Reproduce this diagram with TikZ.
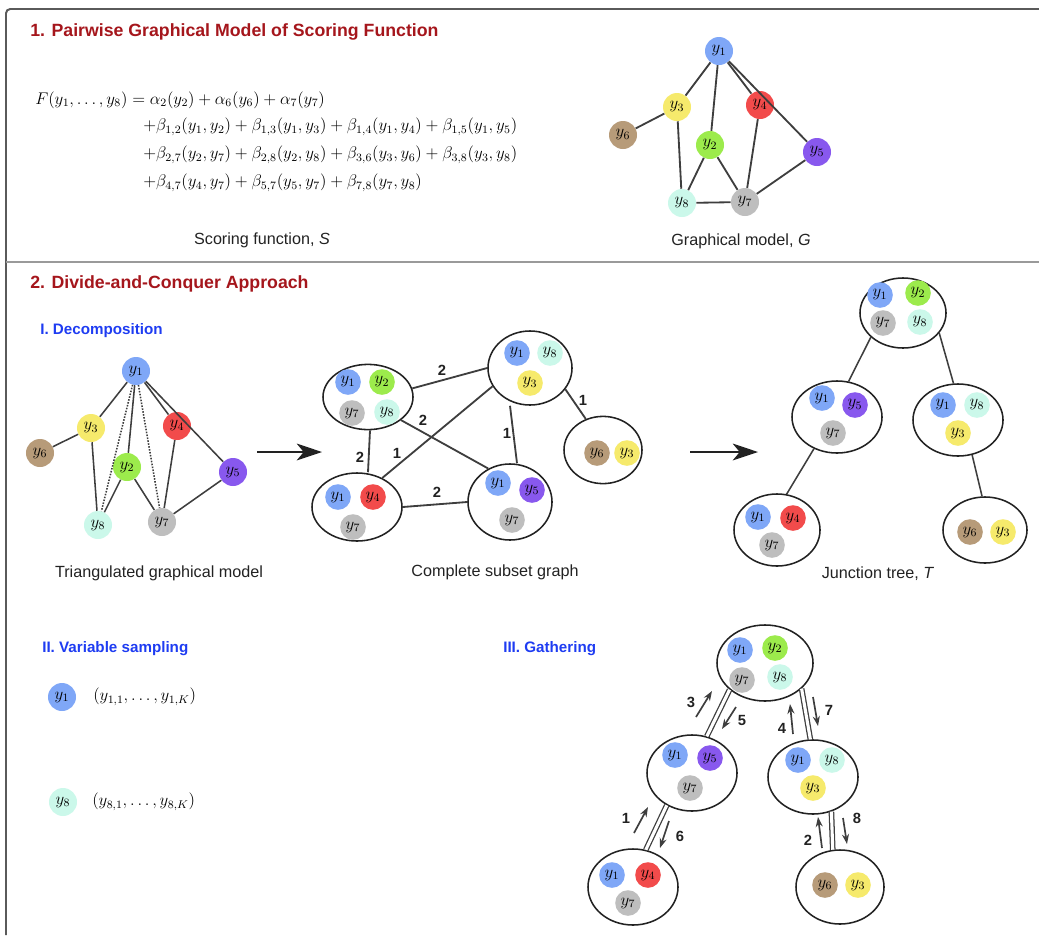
\documentclass[tikz,border=0pt]{standalone}
\usepackage{amsmath}
\usepackage{fontspec}
\setsansfont{Liberation Sans}
\usetikzlibrary{arrows.meta, shapes.geometric}
\definecolor{vc1}{HTML}{7FA7F7}
\definecolor{vc2}{HTML}{9CEB4C}
\definecolor{vc3}{HTML}{F6EA6C}
\definecolor{vc4}{HTML}{F24B4B}
\definecolor{vc5}{HTML}{8858EE}
\definecolor{vc6}{HTML}{B79B79}
\definecolor{vc7}{HTML}{BEBEBE}
\definecolor{vc8}{HTML}{CBF8EA}
\definecolor{titleRed}{HTML}{A5161C}
\definecolor{subBlue}{HTML}{1E3CF2}
\definecolor{inkOne}{HTML}{222222}
\definecolor{inkTwo}{HTML}{3E3E3E}
\definecolor{frameGray}{HTML}{5A5A5A}
\definecolor{sepGray}{HTML}{9A9A9A}
\tikzset{
  yv/.style={circle, minimum size=0.7cm, inner sep=0pt, font=\fontsize{11.5}{11.5}\selectfont},
  clq/.style={ellipse, draw=inkOne, line width=1.1pt, fill=white, minimum width=2.25cm, minimum height=1.8cm,
    inner sep=0pt},
  link/.style={draw=inkTwo, line width=1.3pt},
  tlink/.style={draw=inkTwo, line width=1.1pt},
  dlink/.style={draw=inkTwo, line width=0.9pt, double=white, double distance=2.2pt},
  sectitle/.style={anchor=west, font=\sffamily\bfseries\fontsize{12.6}{14}\selectfont, text=titleRed, inner sep=0pt},
  subtitle/.style={anchor=west, font=\sffamily\bfseries\fontsize{10.8}{12}\selectfont, text=subBlue, inner sep=0pt},
  capt/.style={font=\sffamily\fontsize{11.5}{13}\selectfont, text=inkOne},
  fml/.style={anchor=west, font=\fontsize{11.6}{13}\selectfont, inner sep=0pt},
  wt/.style={font=\sffamily\bfseries\fontsize{10.5}{12}\selectfont, text=inkOne, inner sep=1pt},
  flow/.style={-{Stealth[length=7pt, width=5pt]}, draw=inkTwo, line width=1.2pt},
  bigarr/.style={-{Stealth[length=18pt, width=12pt, inset=5pt]}, draw=inkOne, line width=0.9pt},
  outframe/.style={draw=frameGray, line width=1.4pt},
  sepline/.style={draw=sepGray, line width=1.2pt},
}

\begin{document}
\begin{tikzpicture}[x=0.025cm, y=-0.025cm]
  % \yvar{name}{x,y}{index}: coloured variable y_index
  \newcommand{\yvar}[3]{\node[yv, fill=vc#3] (#1) at (#2) {$y_{#3}$};}
  \newcommand{\yin}[3]{\node[yv, minimum size=0.64cm, fill=vc#3] (#1) at (#2) {$y_{#3}$};}
  \useasboundingbox (0,0) rectangle (1039,935);
  \draw[outframe, rounded corners=3pt] (1039,9) -- (6,9) -- (6,935);
  \draw[sepline] (6,262) -- (1039,262);
  % ---- 1. scoring function S and graph G
  \node[sectitle] (ttl1) at (30,32) {1. Pairwise Graphical Model of Scoring Function};
  \node[fml] (f1) at (35,100) {$F(y_1,\ldots,y_8)=\alpha_2(y_2)+\alpha_6(y_6)+\alpha_7(y_7)$};
  \node[fml] (f2) at (143,127) {$+\beta_{1,2}(y_1,y_2)+\beta_{1,3}(y_1,y_3)+\beta_{1,4}(y_1,y_4)+\beta_{1,5}(y_1,y_5)$};
  \node[fml] (f3) at (143,155) {$+\beta_{2,7}(y_2,y_7)+\beta_{2,8}(y_2,y_8)+\beta_{3,6}(y_3,y_6)+\beta_{3,8}(y_3,y_8)$};
  \node[fml] (f4) at (143,183) {$+\beta_{4,7}(y_4,y_7)+\beta_{5,7}(y_5,y_7)+\beta_{7,8}(y_7,y_8)$};
  \node[capt] (capS) at (262,240) {Scoring function, \textit{S}};
  \foreach \n/\x/\y in {1/719/51, 2/710/145, 3/677/107, 4/760/105, 5/817/152, 6/623/135, 7/745/202, 8/682/203}
    {\yvar{g\n}{\x,\y}{\n}}
  \foreach \a/\b in {1/2, 1/3, 1/4, 1/5, 2/7, 2/8, 3/6, 3/8, 4/7, 5/7, 7/8}
    {\draw[link] (g\a) -- (g\b);}
  \node[capt] (capG) at (741,241) {Graphical model, \textit{G}};
  % ---- 2. divide and conquer
  \node[sectitle] (ttl2) at (30,284) {2. Divide-and-Conquer Approach};
  \node[subtitle] (sub1) at (40,331) {I. Decomposition};
  % triangulated graph
  \foreach \n/\x/\y in {1/136/371, 2/127/467, 3/91/428, 4/177/426, 5/233/472, 6/40/453, 7/162/522, 8/98/525}
    {\yvar{t\n}{\x,\y}{\n}}
  \foreach \a/\b in {1/2, 1/3, 1/4, 1/5, 2/7, 2/8, 3/6, 3/8, 4/7, 5/7}
    {\draw[tlink] (t\a) -- (t\b);}
  \draw[tlink, densely dotted] (t1) -- (t8);
  \draw[tlink, densely dotted] (t1) -- (t7);
  \node[capt] (capT) at (159,573) {Triangulated graphical model};
  \coordinate (ar1s) at (257,452); \coordinate (ar1e) at (322,452);
  \draw[bigarr] (ar1s) -- (ar1e);
  % complete subset graph
  \node[clq, minimum width=2.25cm, minimum height=1.63cm] (sA) at (368,397) {};
  \node[clq, minimum width=2.1cm, minimum height=1.85cm] (sB) at (530,368) {};
  \node[clq, minimum width=1.95cm, minimum height=1.68cm] (sC) at (603,450) {};
  \node[clq, minimum width=2.25cm, minimum height=1.7cm] (sD) at (357,507) {};
  \node[clq, minimum width=2.1cm, minimum height=1.9cm] (sE) at (510,502) {};
  \draw[link] (sA.11) -- (sB.180);
  \draw[link] (sA.-35) -- (sE.123);
  \draw[link] (sA.south) ++(2,0) -- (sD.north -| sA.south);
  \draw[link] (sD.49) -- (sB.206);
  \draw[link] (sD.0) -- (sE.180);
  \draw[link] (sE.north) ++(7,0) -- (sB.south -| sE.north);
  \draw[link] (sB.-31) -- (sC.119);
  \foreach \n/\x/\y in {1/348/382, 2/382/382, 7/352/413, 8/387/412} {\yin{sA\n}{\x,\y}{\n}}
  \foreach \n/\x/\y in {1/517/353, 8/550/353, 3/530/383} {\yin{sB\n}{\x,\y}{\n}}
  \foreach \n/\x/\y in {6/597/453, 3/627/453} {\yin{sC\n}{\x,\y}{\n}}
  \foreach \n/\x/\y in {1/338/497, 4/373/497, 7/353/527} {\yin{sD\n}{\x,\y}{\n}}
  \foreach \n/\x/\y in {1/498/483, 5/532/490, 7/512/520} {\yin{sE\n}{\x,\y}{\n}}
  \node[wt] (wAB) at (442,370) {2};
  \node[wt] (wAE) at (423,420) {2};
  \node[wt] (wAD) at (360,457) {2};
  \node[wt] (wDB) at (397,453) {1};
  \node[wt] (wBE) at (507,433) {1};
  \node[wt] (wBC) at (583,400) {1};
  \node[wt] (wDE) at (437,492) {2};
  \node[capt] (capC) at (495,572) {Complete subset graph};
  \coordinate (ar2s) at (690,452); \coordinate (ar2e) at (758,452);
  \draw[bigarr] (ar2s) -- (ar2e);
  % junction tree
  \node[clq, minimum width=2.15cm, minimum height=1.75cm] (jA) at (903,313) {};
  \node[clq] (jE) at (837,417) {};
  \node[clq] (jB) at (958,420) {};
  \node[clq, minimum width=2.15cm] (jD) at (777,530) {};
  \node[clq, minimum width=2.1cm, minimum height=1.65cm] (jC) at (985,530) {};
  \draw[tlink] (jA.217) -- (jE.72);
  \draw[tlink] (jA.-29) -- (jB.97);
  \draw[tlink] (jE.234) -- (jD.75);
  \draw[tlink] (jB.-68) -- (jC.95);
  \foreach \n/\x/\y in {1/880/295, 2/918/293, 7/883/323, 8/920/322} {\yin{jA\n}{\x,\y}{\n}}
  \foreach \n/\x/\y in {1/822/398, 5/855/405, 7/833/433} {\yin{jE\n}{\x,\y}{\n}}
  \foreach \n/\x/\y in {1/943/405, 8/977/405, 3/958/433} {\yin{jB\n}{\x,\y}{\n}}
  \foreach \n/\x/\y in {1/758/517, 4/793/518, 7/772/545} {\yin{jD\n}{\x,\y}{\n}}
  \foreach \n/\x/\y in {6/970/532, 3/1003/532} {\yin{jC\n}{\x,\y}{\n}}
  \node[capt] (capJ) at (878,574) {Junction tree, \textit{T}};
  % ---- II. sampling
  \node[subtitle] (sub2) at (42,649) {II. Variable sampling};
  \yvar{p1}{62,697}{1}
  \yvar{p8}{63,802}{8}
  \node[fml] (q1) at (93,697) {$(y_{1,1},\ldots,y_{1,K})$};
  \node[fml] (q8) at (92,802) {$(y_{8,1},\ldots,y_{8,K})$};
  % ---- III. gathering
  \node[subtitle] (sub3) at (503,649) {III. Gathering};
  \node[clq, minimum width=2.4cm, minimum height=1.9cm] (hA) at (765,663) {};
  \node[clq, minimum height=1.9cm] (hE) at (692,773) {};
  \node[clq, minimum height=1.85cm] (hB) at (813,777) {};
  \node[clq, minimum height=1.9cm] (hD) at (633,887) {};
  \node[clq, minimum width=2.2cm, minimum height=1.85cm] (hC) at (840,887) {};
  \draw[dlink] (hA.217) -- (hE.68);
  \draw[dlink] (hA.-35) -- (hB.94);
  \draw[dlink] (hE.232) -- (hD.71);
  \draw[dlink] (hB.-62) -- (hC.101);
  \foreach \n/\x/\y in {1/740/650, 2/775/648, 7/742/680, 8/780/677} {\yin{hA\n}{\x,\y}{\n}}
  \foreach \n/\x/\y in {1/675/755, 5/710/758, 7/690/788} {\yin{hE\n}{\x,\y}{\n}}
  \foreach \n/\x/\y in {1/798/760, 8/832/760, 3/813/788} {\yin{hB\n}{\x,\y}{\n}}
  \foreach \n/\x/\y in {1/612/875, 4/648/875, 7/628/903} {\yin{hD\n}{\x,\y}{\n}}
  \foreach \n/\x/\y in {6/825/885, 3/858/885} {\yin{hC\n}{\x,\y}{\n}}
  % message order
  \foreach \k/\sx/\sy/\ex/\ey/\lx/\ly in {3/696/717/712/691/691/702, 5/736/707/722/729/742/720,
      4/793/734/790/704/782/728, 7/813/697/818/726/829/710, 1/634/833/648/807/626/818,
      6/669/821/660/848/680/836, 2/822/848/818/817/808/840, 8/843/818/847/844/857/818} {
    \coordinate (m\k s) at (\sx,\sy); \coordinate (m\k e) at (\ex,\ey);
    \draw[flow] (m\k s) -- (m\k e);
    \node[wt] (n\k) at (\lx,\ly) {\k};
  }
\end{tikzpicture}
\end{document}
